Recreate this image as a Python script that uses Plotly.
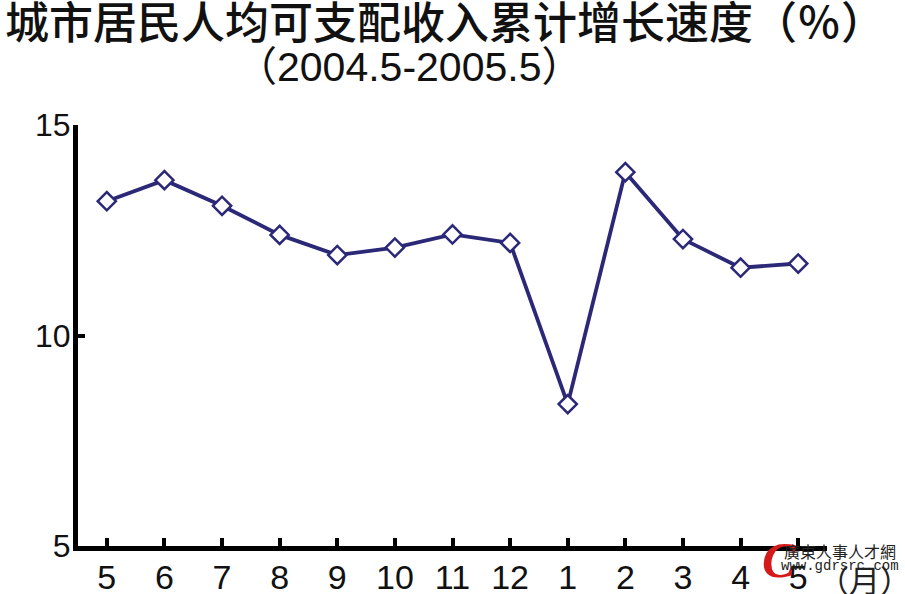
import plotly.graph_objects as go

months = ["5", "6", "7", "8", "9", "10", "11", "12", "1", "2", "3", "4", "5"]
growth = [13.19, 13.69, 13.08, 12.39, 11.91, 12.09, 12.40, 12.20, 8.37, 13.88, 12.29, 11.61, 11.71]
y_ticks = [5, 10, 15]

W, H = 905, 594
L, R, T, B = 78, 78, 125, 48
pw, ph = W - L - R, H - T - B

def px(x):
    return (x - L) / pw

def py(y):
    return 1 - (y - T) / ph

NAVY = "#2b2878"
idx = list(range(len(months)))

fig = go.Figure()
fig.add_trace(go.Scatter(
    x=idx, y=growth, mode="lines+markers",
    line=dict(color=NAVY, width=3.8),
    marker=dict(symbol="diamond", size=14, color="white",
                line=dict(color=NAVY, width=2.5)),
    cliponaxis=False, showlegend=False, hoverinfo="skip",
))

fig.update_layout(
    template="none",
    width=W, height=H,
    margin=dict(l=L, r=R, t=T, b=B, pad=0, autoexpand=False),
    paper_bgcolor="white", plot_bgcolor="white",
    xaxis=dict(
        automargin=False,
        range=[-0.5, len(months) - 0.5],
        tickmode="array", tickvals=idx, ticktext=months,
        showgrid=False, zeroline=False,
        showline=True, linecolor="black", linewidth=5,
        ticks="inside", ticklen=8, tickwidth=4, tickcolor="black",
        tickfont=dict(family="Liberation Sans, Arial", size=34, color="#111"),
        ticklabelstandoff=-3,
    ),
    yaxis=dict(
        automargin=False,
        range=[5, 15], tickvals=y_ticks,
        showgrid=False, zeroline=False,
        showline=True, linecolor="black", linewidth=5,
        ticks="inside", ticklen=7, tickwidth=4, tickcolor="black",
        tickfont=dict(family="Liberation Sans, Arial", size=32, color="#111"),
        ticklabelstandoff=-4,
    ),
    font=dict(family="Liberation Sans, Noto Sans CJK SC"),
)

anns = [
    dict(text="城市居民人均可支配收入累计增长速度（％）", x=px(3), y=py(20),
         xanchor="left", yanchor="middle",
         font=dict(family="Noto Sans CJK SC", size=44, weight=500, color="#111")),
    dict(text="（2004.5-2005.5）", x=px(409), y=py(67),
         xanchor="center", yanchor="middle",
         font=dict(family="Liberation Sans, Noto Sans CJK SC", size=41, color="#111")),
    dict(text="（月）", x=px(864), y=py(578),
         xanchor="center", yanchor="middle",
         font=dict(family="Noto Sans CJK SC", size=31, color="#222")),
    dict(text="<i><b>C</b></i>", x=px(779), y=py(560),
         xanchor="center", yanchor="middle",
         font=dict(family="Liberation Serif", size=50, color="#d41a1a")),
    dict(text="廣東人事人才網", x=px(840), y=py(551),
         xanchor="center", yanchor="middle",
         font=dict(family="Noto Sans CJK TC", size=16, color="#222")),
    dict(text="www.gdrsrc.com", x=px(840), y=py(566),
         xanchor="center", yanchor="middle",
         font=dict(family="Liberation Mono", size=14, color="#222")),
]
for a in anns:
    a.update(xref="paper", yref="paper", showarrow=False)
fig.update_layout(annotations=anns)

fig.write_html(
    "out.html",
    config={"displayModeBar": False},
    post_script="document.body.style.margin='0';document.body.style.overflow='hidden';",
)
